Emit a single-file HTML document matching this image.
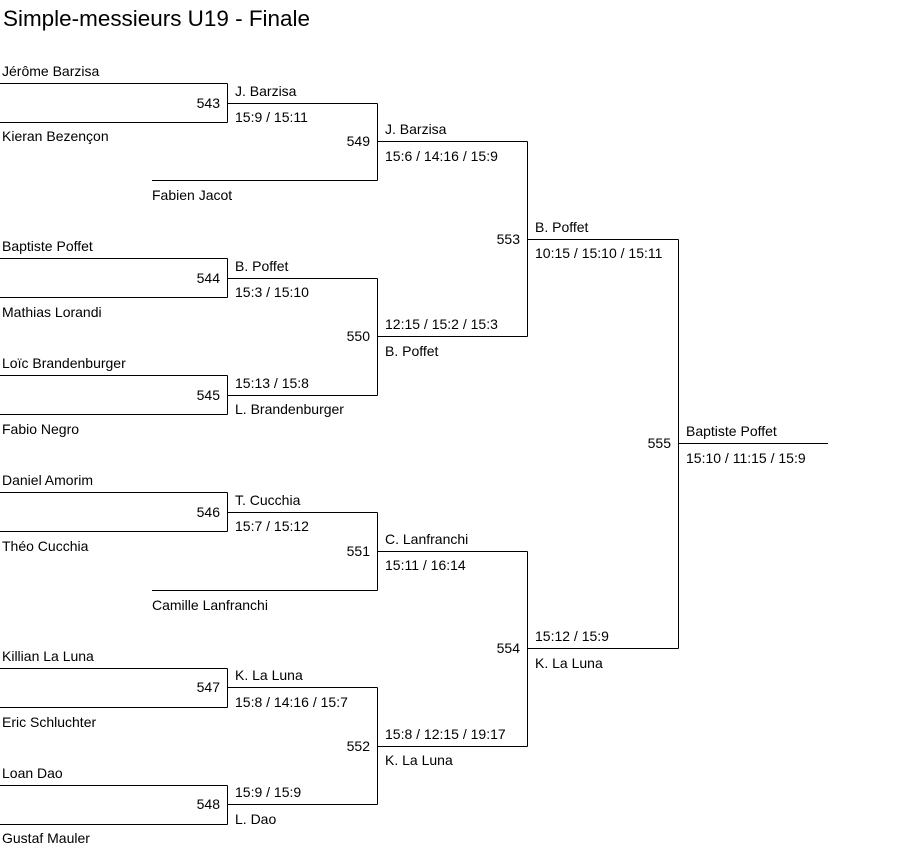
<!DOCTYPE html>
<html>
<head>
<meta charset="utf-8">
<style>
html,body{margin:0;padding:0;background:#fff;}
svg{display:block;}
text{font-family:"Liberation Sans",Arial,sans-serif;font-size:14px;fill:#000;}
.t{font-size:22px;}
.n{text-anchor:end;}
line{stroke:#000;stroke-width:1;shape-rendering:crispEdges;}
</style>
</head>
<body>
<svg width="903" height="855" viewBox="0 0 903 855" xmlns="http://www.w3.org/2000/svg">
<text class="t" x="3" y="26" textLength="307" lengthAdjust="spacingAndGlyphs">Simple-messieurs U19 - Finale</text>

<!-- 543 -->
<line x1="0" y1="83.5" x2="227.5" y2="83.5"/>
<line x1="0" y1="122.5" x2="227.5" y2="122.5"/>
<line x1="227.5" y1="83.5" x2="227.5" y2="122.5"/>
<line x1="227.5" y1="103.5" x2="377.5" y2="103.5"/>
<text x="2" y="76">Jérôme Barzisa</text>
<text x="2" y="141">Kieran Bezençon</text>
<text class="n" x="220" y="108">543</text>
<text x="235" y="96">J. Barzisa</text>
<text x="235" y="122">15:9 / 15:11</text>

<!-- bye Fabien -->
<line x1="152" y1="180.5" x2="377.5" y2="180.5"/>
<text x="152" y="200">Fabien Jacot</text>

<!-- 549 -->
<line x1="377.5" y1="103.5" x2="377.5" y2="180.5"/>
<line x1="377.5" y1="141.5" x2="527.5" y2="141.5"/>
<text class="n" x="370" y="146">549</text>
<text x="385" y="134">J. Barzisa</text>
<text x="385" y="161">15:6 / 14:16 / 15:9</text>

<!-- 544 -->
<line x1="0" y1="258.5" x2="227.5" y2="258.5"/>
<line x1="0" y1="297.5" x2="227.5" y2="297.5"/>
<line x1="227.5" y1="258.5" x2="227.5" y2="297.5"/>
<line x1="227.5" y1="278.5" x2="377.5" y2="278.5"/>
<text x="2" y="251">Baptiste Poffet</text>
<text x="2" y="317">Mathias Lorandi</text>
<text class="n" x="220" y="283">544</text>
<text x="235" y="271">B. Poffet</text>
<text x="235" y="297">15:3 / 15:10</text>

<!-- 545 -->
<line x1="0" y1="375.5" x2="227.5" y2="375.5"/>
<line x1="0" y1="414.5" x2="227.5" y2="414.5"/>
<line x1="227.5" y1="375.5" x2="227.5" y2="414.5"/>
<line x1="227.5" y1="395.5" x2="377.5" y2="395.5"/>
<text x="2" y="368">Loïc Brandenburger</text>
<text x="2" y="434">Fabio Negro</text>
<text class="n" x="220" y="400">545</text>
<text x="235" y="388">15:13 / 15:8</text>
<text x="235" y="414">L. Brandenburger</text>

<!-- 550 -->
<line x1="377.5" y1="278.5" x2="377.5" y2="395.5"/>
<line x1="377.5" y1="336.5" x2="527.5" y2="336.5"/>
<text class="n" x="370" y="341">550</text>
<text x="385" y="329">12:15 / 15:2 / 15:3</text>
<text x="385" y="356">B. Poffet</text>

<!-- 553 -->
<line x1="527.5" y1="141.5" x2="527.5" y2="336.5"/>
<line x1="527.5" y1="239.5" x2="678.5" y2="239.5"/>
<text class="n" x="520" y="244">553</text>
<text x="535" y="232">B. Poffet</text>
<text x="535" y="258">10:15 / 15:10 / 15:11</text>

<!-- 546 -->
<line x1="0" y1="492.5" x2="227.5" y2="492.5"/>
<line x1="0" y1="531.5" x2="227.5" y2="531.5"/>
<line x1="227.5" y1="492.5" x2="227.5" y2="531.5"/>
<line x1="227.5" y1="512.5" x2="377.5" y2="512.5"/>
<text x="2" y="485">Daniel Amorim</text>
<text x="2" y="551">Théo Cucchia</text>
<text class="n" x="220" y="517">546</text>
<text x="235" y="505">T. Cucchia</text>
<text x="235" y="531">15:7 / 15:12</text>

<!-- bye Camille -->
<line x1="152" y1="590.5" x2="377.5" y2="590.5"/>
<text x="152" y="610">Camille Lanfranchi</text>

<!-- 551 -->
<line x1="377.5" y1="512.5" x2="377.5" y2="590.5"/>
<line x1="377.5" y1="551.5" x2="527.5" y2="551.5"/>
<text class="n" x="370" y="556">551</text>
<text x="385" y="544">C. Lanfranchi</text>
<text x="385" y="570">15:11 / 16:14</text>

<!-- 547 -->
<line x1="0" y1="668.5" x2="227.5" y2="668.5"/>
<line x1="0" y1="707.5" x2="227.5" y2="707.5"/>
<line x1="227.5" y1="668.5" x2="227.5" y2="707.5"/>
<line x1="227.5" y1="687.5" x2="377.5" y2="687.5"/>
<text x="2" y="661">Killian La Luna</text>
<text x="2" y="727">Eric Schluchter</text>
<text class="n" x="220" y="692">547</text>
<text x="235" y="680">K. La Luna</text>
<text x="235" y="707">15:8 / 14:16 / 15:7</text>

<!-- 548 -->
<line x1="0" y1="785.5" x2="227.5" y2="785.5"/>
<line x1="0" y1="824.5" x2="227.5" y2="824.5"/>
<line x1="227.5" y1="785.5" x2="227.5" y2="824.5"/>
<line x1="227.5" y1="804.5" x2="377.5" y2="804.5"/>
<text x="2" y="778">Loan Dao</text>
<text x="2" y="843">Gustaf Mauler</text>
<text class="n" x="220" y="809">548</text>
<text x="235" y="797">15:9 / 15:9</text>
<text x="235" y="824">L. Dao</text>

<!-- 552 -->
<line x1="377.5" y1="687.5" x2="377.5" y2="804.5"/>
<line x1="377.5" y1="746.5" x2="527.5" y2="746.5"/>
<text class="n" x="370" y="751">552</text>
<text x="385" y="739">15:8 / 12:15 / 19:17</text>
<text x="385" y="765">K. La Luna</text>

<!-- 554 -->
<line x1="527.5" y1="551.5" x2="527.5" y2="746.5"/>
<line x1="527.5" y1="648.5" x2="678.5" y2="648.5"/>
<text class="n" x="520" y="653">554</text>
<text x="535" y="641">15:12 / 15:9</text>
<text x="535" y="668">K. La Luna</text>

<!-- 555 -->
<line x1="678.5" y1="239.5" x2="678.5" y2="648.5"/>
<line x1="678.5" y1="443.5" x2="828" y2="443.5"/>
<text class="n" x="671" y="448">555</text>
<text x="686" y="436">Baptiste Poffet</text>
<text x="686" y="463">15:10 / 11:15 / 15:9</text>
</svg>
</body>
</html>
